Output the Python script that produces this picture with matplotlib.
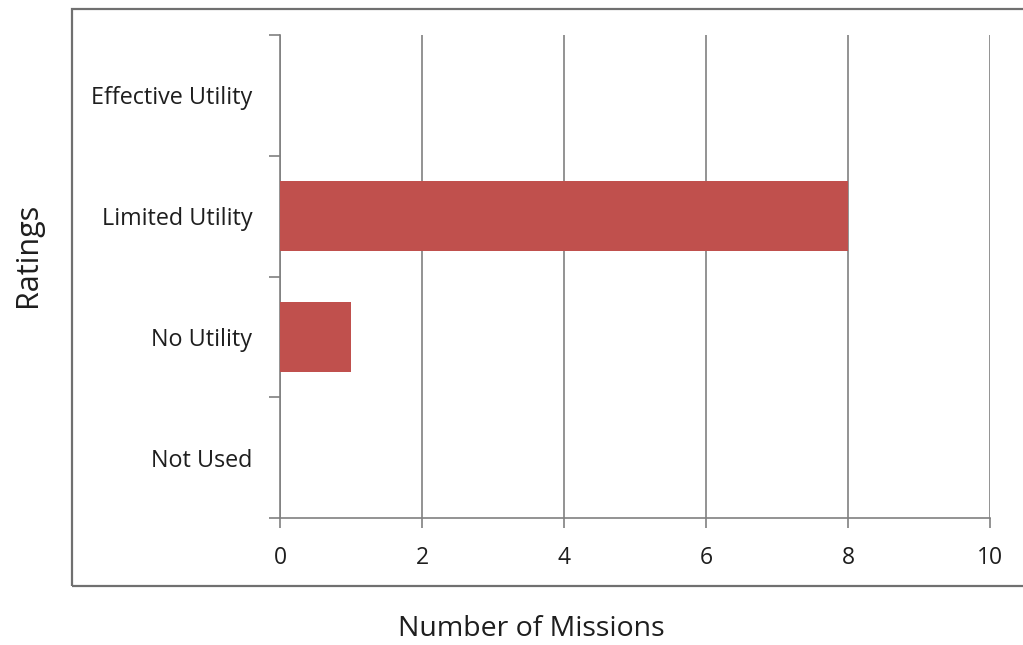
import matplotlib
matplotlib.use("Agg")
import matplotlib.pyplot as plt
from matplotlib.patches import Rectangle

categories = ["Not Used", "No Utility", "Limited Utility", "Effective Utility"]
values = [0, 1, 8, 0]
x_ticks = [0, 2, 4, 6, 8, 10]

plt.rcParams['font.family'] = ['Open Sans', 'DejaVu Sans']

W, H = 1023, 645
fig = plt.figure(figsize=(W / 100, H / 100), dpi=100)
fig.patch.set_facecolor("white")

# outer chart border
fig.patches.append(Rectangle((72 / W, 1 - 586 / H), 1.02 - 72 / W, (586 - 9) / H,
                             transform=fig.transFigure, fill=False,
                             edgecolor="#707070", linewidth=1.6, zorder=0))

ax = fig.add_axes([280 / W, 1 - 518 / H, 710 / W, 483 / H])
ypos = list(range(len(categories)))
ax.barh(ypos, values, height=0.58, color="#C0504D", linewidth=0, zorder=3)

ax.set_xlim(0, 10)
ax.set_ylim(-0.5, len(categories) - 0.5)
ax.set_xticks(x_ticks)
ax.set_xticklabels([str(t) for t in x_ticks])
ax.set_yticks(ypos)
ax.set_yticklabels(categories)
ax.set_yticks([i - 0.5 for i in range(len(categories) + 1)], minor=True)
ax.tick_params(axis='y', which='major', length=0, pad=20, labelsize=16.8,
               labelcolor="#1e1e1e")
ax.tick_params(axis='y', which='minor', length=8, width=1.2, color="#808080")
ax.tick_params(axis='x', which='major', length=7, width=1.2, color="#808080",
               pad=13, labelsize=16.5, labelcolor="#1e1e1e")

ax.grid(axis='x', color="#808080", linewidth=1.2, zorder=0)
for s in ['top', 'right']:
    ax.spines[s].set_visible(False)
for s in ['left', 'bottom']:
    ax.spines[s].set_color("#808080")
    ax.spines[s].set_linewidth(1.2)

fig.text(531 / W, 1 - 629 / H, "Number of Missions", ha='center', va='center',
         fontsize=20.5, color="#1e1e1e")
fig.text(28 / W, 1 - 255 / H, "Ratings", ha='center', va='center',
         rotation=90, fontsize=22, color="#1e1e1e")

fig.savefig("out.png", dpi=100, facecolor="white")
